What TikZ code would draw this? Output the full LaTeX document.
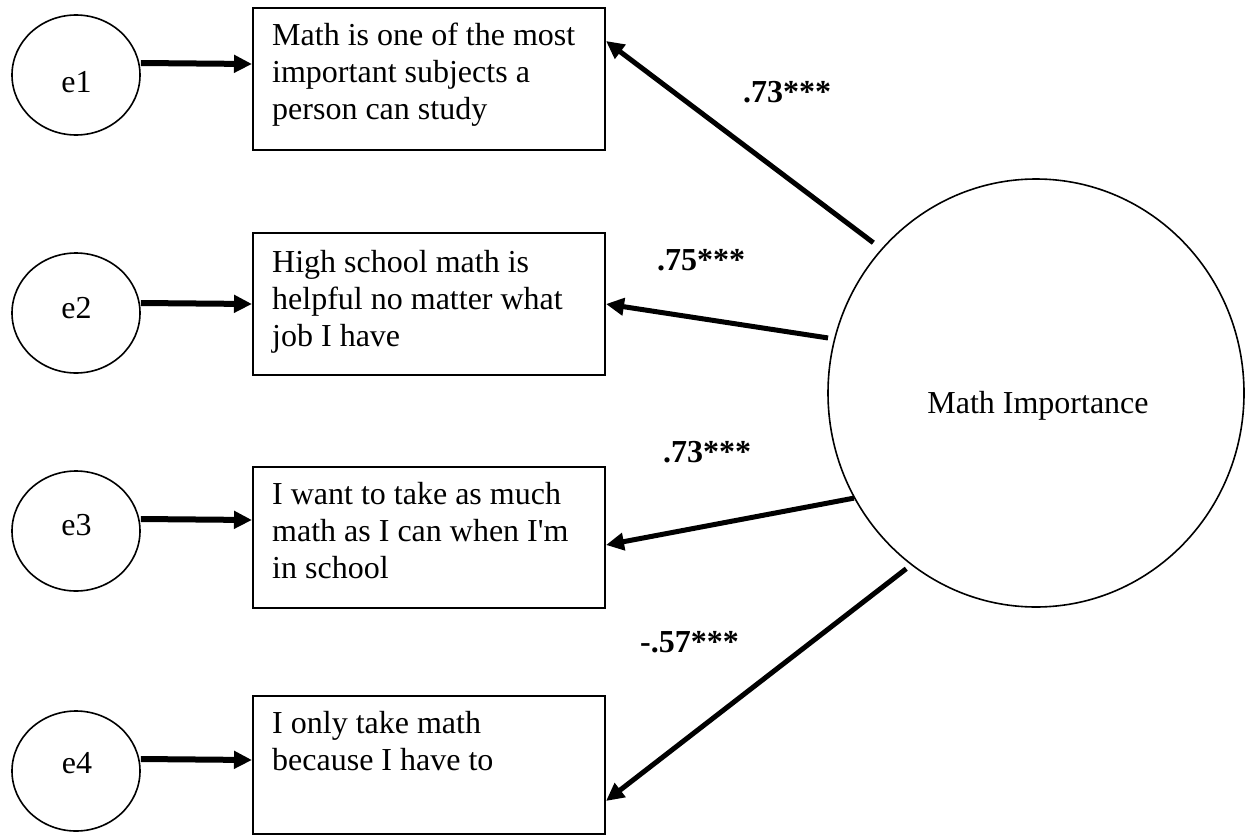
\documentclass[tikz,border=0pt]{standalone}
\usepackage{fontspec}
\setmainfont{Liberation Serif}[Ligatures=TeXOff]
\usetikzlibrary{arrows.meta,shapes.geometric}
\begin{document}
\begin{tikzpicture}[x=1pt,y=-1pt,
  txt/.style={font=\fontsize{32}{37}\selectfont, inner sep=0pt},
  lbl/.style={font=\fontsize{32}{37}\selectfont\bfseries, inner sep=0pt, anchor=base west},
  errnode/.style={draw, ellipse, line width=1.6pt, minimum width=128pt, minimum height=120pt, inner sep=0pt},
  itembox/.style={draw, rectangle, line width=2pt, minimum width=352pt, anchor=north west, inner sep=0pt},
  arr/.style={line width=6pt, -{Triangle[length=18pt,width=17pt]}},
  load/.style={line width=5pt, -{Triangle[length=18pt,width=17pt]}}
]
\useasboundingbox (0,0) rectangle (1245,835);

% error terms
\node[errnode] (e1) at (76,75) {};
\node[errnode] (e2) at (76,313) {};
\node[errnode] (e3) at (76,531) {};
\node[errnode] (e4) at (76,771) {};
\node[txt, anchor=base] (le1) at (76.5,92) {e1};
\node[txt, anchor=base] (le2) at (76.5,318) {e2};
\node[txt, anchor=base] (le3) at (76.5,535) {e3};
\node[txt, anchor=base] (le4) at (77,773) {e4};

% item boxes
\node[itembox, minimum height=142pt] (b1) at (252,7) {};
\node[itembox, minimum height=142pt] (b2) at (252,232) {};
\node[itembox, minimum height=141pt] (b3) at (252,466) {};
\node[itembox, minimum height=138pt] (b4) at (252,695) {};
\node[txt, align=left, anchor=north west] (t1) at (272,23) {Math is one of the most\\important subjects a\\person can study};
\node[txt, align=left, anchor=north west] (t2) at (272,250) {High school math is\\helpful no matter what\\job I have};
\node[txt, align=left, anchor=north west] (t3) at (272,482) {I want to take as much\\math as I can when I'm\\in school};
\node[txt, align=left, anchor=north west] (t4) at (272,711) {I only take math\\because I have to};

% latent factor
\node[draw, ellipse, line width=1.6pt, minimum width=416pt, minimum height=428pt, inner sep=0pt] (MI) at (1036,393) {};
\node[txt, anchor=base] (lmi) at (1038,413) {Math Importance};

% error arrows
\draw[arr] ([yshift=12pt]e1.east) -- ([yshift=15pt]b1.west);
\draw[arr] ([yshift=10pt]e2.east) -- (b2.west);
\draw[arr] ([yshift=12pt]e3.east) -- ([yshift=17.5pt]b3.west);
\draw[arr] ([yshift=12pt]e4.east) -- ([yshift=5pt]b4.west);

% loadings
\draw[load, shorten <=10pt] (MI.137) -- ([yshift=38pt]b1.east);
\draw[load, shorten <=6pt] (MI.165) -- (b2.east);
\draw[load] (MI.210) -- ([yshift=-7.5pt]b3.east);
\draw[load, shorten <=6pt] (MI.234) -- ([yshift=-36pt]b4.east);

\node[lbl] (l1) at (743,102) {.73***};
\node[lbl] (l2) at (657,270) {.75***};
\node[lbl] (l3) at (663,462) {.73***};
\node[lbl] (l4) at (640,652) {-.57***};
\end{tikzpicture}
\end{document}
